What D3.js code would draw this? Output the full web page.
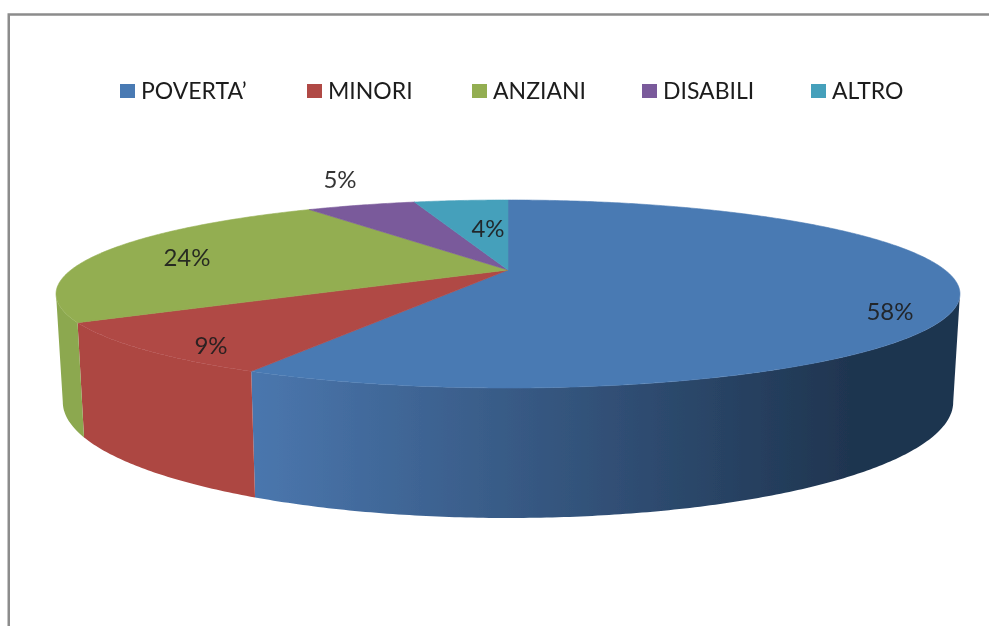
<!DOCTYPE html>
<html>
<head>
<meta charset="utf-8">
<script src="https://cdn.jsdelivr.net/npm/d3@7"></script>
<style>
  body { margin: 0; background: #fff; }
  text { font-family: Lato, "Open Sans", sans-serif; fill: #1c1c1c; }
</style>
</head>
<body>
<script>
const categories = ["POVERTA\u2019", "MINORI", "ANZIANI", "DISABILI", "ALTRO"];
const shares = [57.5, 8.8, 24.4, 5.0, 4.3];
const labels = ["58%", "9%", "24%", "5%", "4%"];
const topColors = ["#4a7ab3", "#b04845", "#93ae51", "#7a5a9b", "#45a0bb"];
const sideColors = ["#4a76ad", "#ad4743", "#8ca850", "#6a4e88", "#3c8ba3"];

const width = 989, height = 626;

const svg = d3.select("body").append("svg")
  .attr("width", width)
  .attr("height", height)
  .style("display", "block");

// the reference is a soft screenshot
svg.append("defs").append("filter")
  .attr("id", "soft")
  .append("feGaussianBlur")
  .attr("stdDeviation", 0.45);

const root = svg.append("g").attr("filter", "url(#soft)");

// frame, only top and left show
root.append("path")
  .attr("d", `M8.75,640V14.5H1000`)
  .attr("fill", "none")
  .attr("stroke", "#8c8c8c")
  .attr("stroke-width", 2.5);

// legend
const legendX = d3.scaleOrdinal().domain(categories).range([120, 307, 472, 642, 811]);
const legend = root.append("g").selectAll("g")
  .data(categories)
  .join("g")
  .attr("transform", d => `translate(${legendX(d)},84)`);
legend.append("rect")
  .attr("width", 15)
  .attr("height", 14)
  .attr("fill", (d, i) => topColors[i]);
legend.append("text")
  .attr("x", 21)
  .attr("y", 15)
  .attr("font-size", 23)
  .text(d => d);

// perspective of the disc: circle -> ellipse with the centre pushed back
const cx = 508, cy = 270;
const persp = -0.2553, scaleX = 437, scaleY = 87.87;
function topPoint(a) {
  const X = Math.sin(a), Y = -Math.cos(a), w = 1 + persp * Y;
  return [cx + scaleX * X / w, cy + scaleY * Y / w];
}
const depth = d3.scaleLinear().domain([294, 388]).range([108, 130]);
function lowPoint(a) {
  const [x, y] = topPoint(a);
  return [cx + (x - cx) * 0.985, y + depth(y)];
}
function arcAngles(a0, a1) {
  const n = Math.max(2, Math.ceil((a1 - a0) / 0.01));
  return d3.range(n + 1).map(i => a0 + (a1 - a0) * i / n);
}

const pie = d3.pie().sort(null).value(d => d)(shares);
const line = d3.line();

const grad = svg.select("defs").append("linearGradient")
  .attr("id", "blueSide")
  .attr("gradientUnits", "userSpaceOnUse")
  .attr("x1", 258).attr("x2", 850)
  .attr("y1", 0).attr("y2", 0);
grad.append("stop").attr("offset", 0).attr("stop-color", "#4a76ad");
grad.append("stop").attr("offset", 1).attr("stop-color", "#1f3550");

// rightmost and leftmost points of the rim, where the side turns away
const sideStart = d3.range(0, Math.PI, 0.001).reduce((b, a) => topPoint(a)[0] > topPoint(b)[0] ? a : b, 0);
const sideEnd = d3.range(Math.PI, 2 * Math.PI, 0.001).reduce((b, a) => topPoint(a)[0] < topPoint(b)[0] ? a : b, Math.PI);

root.append("g").selectAll("path")
  .data(pie)
  .join("path")
  .attr("d", d => {
    const a0 = Math.max(d.startAngle, sideStart), a1 = Math.min(d.endAngle, sideEnd);
    if (a1 <= a0) return null;
    const as = arcAngles(a0, a1);
    return line(as.map(topPoint).concat(as.slice().reverse().map(lowPoint))) + "Z";
  })
  .attr("fill", (d, i) => i === 0 ? "url(#blueSide)" : sideColors[i]);

// top face
root.append("g").selectAll("path")
  .data(pie)
  .join("path")
  .attr("d", d => line([[cx, cy]].concat(arcAngles(d.startAngle, d.endAngle).map(topPoint))) + "Z")
  .attr("fill", (d, i) => topColors[i])
  .attr("stroke", (d, i) => topColors[i])
  .attr("stroke-width", 0.6);

// data labels
const labelX = d3.scaleOrdinal().domain(labels).range([890, 211, 187, 340, 488]);
const labelY = d3.scaleOrdinal().domain(labels).range([310, 344, 256, 178, 227]);
root.append("g").selectAll("text")
  .data(labels)
  .join("text")
  .attr("x", d => labelX(d))
  .attr("y", d => labelY(d))
  .attr("text-anchor", "middle")
  .attr("dominant-baseline", "central")
  .attr("font-size", 24)
  .style("opacity", 0.9)
  .text(d => d);
</script>
</body>
</html>
